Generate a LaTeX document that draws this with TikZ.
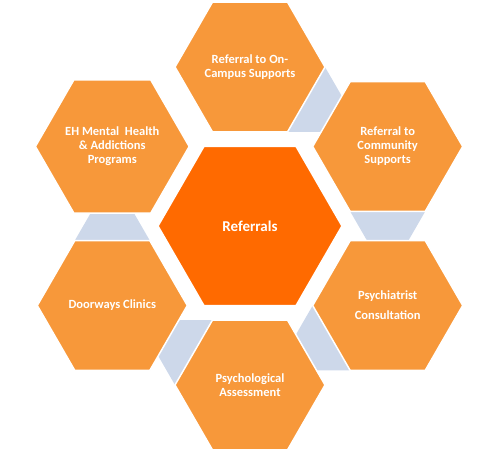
\documentclass[tikz,border=0pt]{standalone}
\usepackage{fontspec}
\setmainfont{Carlito}
\usetikzlibrary{shapes.geometric,calc,backgrounds}
\definecolor{hexorange}{RGB}{247,152,58}
\definecolor{hexcenter}{RGB}{255,106,0}
\definecolor{linkblue}{RGB}{205,216,234}
\newcommand\hexlink[3]{%
  \fill[linkshape] ($(#1.center)+(#3:64.95pt)+(#3+90:37.5pt)$) --
    ($(#1.center)+(#3:64.95pt)+(#3-90:37.5pt)$) --
    ($(#2.center)+(#3+180:64.95pt)+(#3-90:20.7pt)$) --
    ($(#2.center)+(#3+180:64.95pt)+(#3+90:20.7pt)$) -- cycle;}
\begin{document}
\begin{tikzpicture}[x=1pt,y=1pt,
  hexouter/.style={regular polygon, regular polygon sides=6, minimum size=150pt,
    inner sep=0pt, outer sep=0pt, fill=hexorange, draw=white, line width=1.5pt,
    text=white, font=\bfseries\fontsize{12.5}{14}\selectfont, align=center},
  hexcore/.style={hexouter, minimum size=184pt, fill=hexcenter,
    font=\bfseries\fontsize{15}{17}\selectfont},
  linkshape/.style={fill=linkblue, draw=none}]
\useasboundingbox (0,0) rectangle (500,453);
\coordinate (C) at (250,227);
\node[hexcore] (core) at (C) {Referrals};
\node[hexouter] (oncampus) at ($(C)+(90:159pt)$) {Referral to On-\\Campus Supports};
\node[hexouter] (community) at ($(C)+(30:159pt)$) {Referral to\\Community\\Supports};
\node[hexouter] (psychiatrist) at ($(C)+(-30:159pt)$) {Psychiatrist\\[6pt]Consultation};
\node[hexouter] (assessment) at ($(C)+(-90:159pt)$) {Psychological\\Assessment};
\node[hexouter] (doorways) at ($(C)+(210:159pt)$) {Doorways Clinics};
\node[hexouter] (ehmh) at ($(C)+(150:159pt)$) {EH Mental~ Health\\\& Addictions\\Programs};
\begin{scope}[on background layer]
  \hexlink{oncampus}{community}{-30}
  \hexlink{community}{psychiatrist}{-90}
  \hexlink{psychiatrist}{assessment}{-150}
  \hexlink{assessment}{doorways}{150}
  \hexlink{doorways}{ehmh}{90}
\end{scope}
\end{tikzpicture}
\end{document}
